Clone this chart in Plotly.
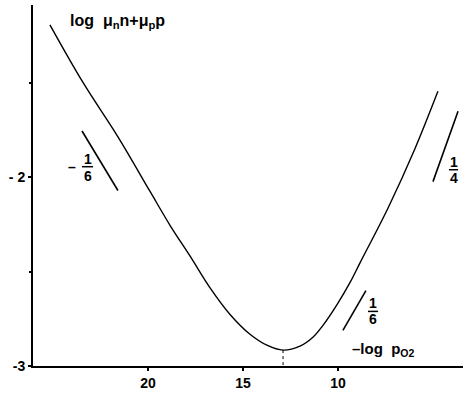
import plotly.graph_objects as go

# conductivity curve: -log pO2 vs log(mu_n n + mu_p p)
neg_log_po2 = [25.16, 23.42, 21.58, 19.89, 18.84, 17.79, 16.74, 15.68, 14.63, 13.74,
               12.89, 12.00, 11.32, 10.79, 10.05, 9.37, 8.84, 7.37, 5.95, 4.74]
log_sigma = [-1.194, -1.499, -1.787, -2.076, -2.255, -2.417, -2.585, -2.727, -2.832, -2.890,
             -2.916, -2.895, -2.848, -2.785, -2.675, -2.559, -2.454, -2.165, -1.850, -1.546]

# position of the minimum
min_x = 12.89
min_y = -2.916

# slope guide segments
guide_m16_x = [23.47, 21.58]
guide_m16_y = [-1.756, -2.071]
guide_p16_x = [8.53, 9.74]
guide_p16_y = [-2.601, -2.811]
guide_p14_x = [3.68, 5.00]
guide_p14_y = [-1.651, -2.024]

x_ticks = [20, 15, 10]
y_ticks = [-3, -2]
y_tick_text = ["-3", "- 2"]

FONT = "Liberation Sans"

fig = go.Figure()
fig.add_trace(go.Scatter(x=neg_log_po2, y=log_sigma, mode="lines",
                         line=dict(color="black", width=1.4, shape="spline", smoothing=1.0),
                         hoverinfo="skip"))
fig.add_trace(go.Scatter(x=[min_x, min_x], y=[min_y, -3], mode="lines",
                         line=dict(color="black", width=1, dash="dot"), hoverinfo="skip"))
for gx, gy in [(guide_m16_x, guide_m16_y), (guide_p16_x, guide_p16_y), (guide_p14_x, guide_p14_y)]:
    fig.add_trace(go.Scatter(x=gx, y=gy, mode="lines",
                             line=dict(color="black", width=1.6), hoverinfo="skip"))

tf = dict(family=FONT, size=14, color="black")
ann = [
    dict(x=24.21, y=-1.178, text="<b>log  μ<sub>n</sub>n+μ<sub>p</sub>p</b>",
         xanchor="left", yanchor="middle", font=dict(family=FONT, size=16, color="black")),
    dict(x=9.37, y=-2.915, text="<b>–log  p<sub>O2</sub></b>",
         xanchor="left", yanchor="middle", font=dict(family=FONT, size=15, color="black")),
    # -1/6
    dict(x=24.0, y=-1.945, text="<b>–</b>", xanchor="center", yanchor="middle", font=tf),
    dict(x=23.18, y=-1.906, text="<b>1</b>", xanchor="center", yanchor="middle", font=tf),
    dict(x=23.18, y=-1.992, text="<b>6</b>", xanchor="center", yanchor="middle", font=tf),
    # 1/6
    dict(x=8.16, y=-2.665, text="<b>1</b>", xanchor="center", yanchor="middle", font=tf),
    dict(x=8.16, y=-2.753, text="<b>6</b>", xanchor="center", yanchor="middle", font=tf),
    # 1/4
    dict(x=3.92, y=-1.922, text="<b>1</b>", xanchor="center", yanchor="middle", font=tf),
    dict(x=3.92, y=-2.006, text="<b>4</b>", xanchor="center", yanchor="middle", font=tf),
]
for a in ann:
    a.update(xref="x", yref="y", showarrow=False)

bars = [(23.47, 22.89, -1.945), (8.42, 7.89, -2.711), (4.16, 3.68, -1.961)]
shapes = [dict(type="line", xref="x", yref="y", x0=a, x1=b, y0=y, y1=y,
               line=dict(color="black", width=1.5)) for a, b, y in bars]

fig.update_layout(
    width=465, height=393,
    margin=dict(l=33, r=2, t=5, b=24),
    paper_bgcolor="white", plot_bgcolor="white",
    showlegend=False,
    annotations=ann, shapes=shapes,
    font=dict(family=FONT, size=14, color="black"),
)
fig.update_xaxes(range=[26.05, 3.42], showgrid=False, zeroline=False,
                 showline=True, linecolor="black", linewidth=2,
                 tickvals=x_ticks, ticktext=[f"<b>{v}</b>" for v in x_ticks],
                 ticks="outside", ticklen=3, tickcolor="black", tickwidth=1.5,
                 tickfont=dict(family=FONT, size=14, color="black"))
fig.update_yaxes(range=[-3, -1.089], showgrid=False, zeroline=False,
                 showline=True, linecolor="black", linewidth=2,
                 tickvals=y_ticks, ticktext=[f"<b>{t}</b>" for t in y_tick_text],
                 ticks="outside", ticklen=3, tickcolor="black", tickwidth=1.5,
                 tickfont=dict(family=FONT, size=14, color="black"),
                 minor=dict(tickvals=[-2.5, -1.5], ticks="outside", ticklen=2,
                            tickcolor="black"))

fig.write_html("out.html")
